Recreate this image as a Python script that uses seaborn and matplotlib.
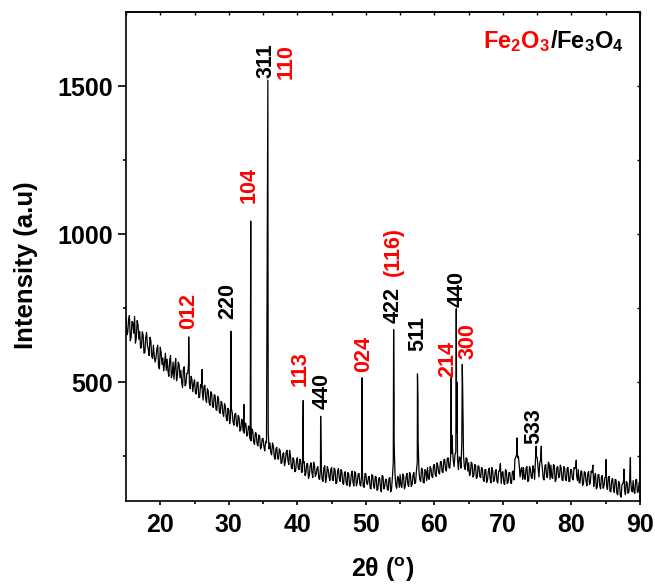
import numpy as np
import pandas as pd
import matplotlib
matplotlib.use("Agg")
import matplotlib.pyplot as plt
import seaborn as sns

# ---------------- data ----------------
# scan points at 15.000, 15.250, ... 90.000 deg
two_theta_a = np.arange(15.0, 90.001, 0.25)
intensity_a = [
    720, 668, 725, 652, 700, 722, 648, 695,   # 15
    672, 618, 660, 600, 668, 612, 652, 588,   # 17
    625, 568, 612, 555, 618, 560, 538, 598,   # 19
    578, 520, 590, 528, 510, 580, 522, 560,   # 21
    540, 482, 552, 495, 530, 495, 520, 468,   # 23
    508, 460, 500, 450, 482, 440, 490, 432,   # 25
    470, 422, 462, 415, 455, 405, 445, 395,   # 27
    430, 385, 418, 370, 405, 380, 398, 355,   # 29
    395, 350, 380, 340, 368, 328, 360, 322,   # 31
    348, 302, 335, 290, 328, 285, 318, 280,   # 33
    310, 268, 295, 330, 295, 255, 285, 240,   # 35
    280, 240, 268, 228, 262, 232, 270, 222,   # 37
    250, 208, 238, 200, 245, 205, 232, 198,   # 39
    232, 192, 225, 185, 228, 178, 220, 190,   # 41
    215, 172, 210, 165, 218, 178, 205, 168,   # 43
    212, 168, 205, 160, 208, 165, 198, 155,   # 45
    198, 152, 190, 158, 200, 150, 192, 162,   # 47
    192, 150, 188, 145, 190, 155, 182, 140,   # 49
    185, 142, 180, 138, 178, 130, 182, 148,   # 51
    172, 135, 178, 140, 230, 190, 142, 178,   # 53
    188, 145, 185, 150, 192, 148, 190, 155,   # 55
    195, 160, 230, 200, 165, 205, 160, 200,   # 57
    212, 172, 208, 178, 222, 182, 218, 190,   # 59
    232, 195, 240, 200, 245, 210, 260, 235,   # 61
    255, 330, 205, 245, 300, 250, 205, 242,   # 63
    228, 190, 225, 185, 220, 180, 215, 178,   # 65
    208, 165, 205, 170, 210, 160, 202, 168,   # 67
    205, 160, 200, 158, 198, 155, 200, 162,   # 69
    195, 158, 200, 240, 255, 250, 180, 212,   # 71
    212, 172, 215, 168, 210, 175, 205, 240,   # 73
    245, 180, 240, 210, 170, 222, 178, 225,   # 75
    220, 175, 218, 170, 215, 180, 210, 168,   # 77
    210, 168, 212, 165, 205, 170, 208, 185,   # 79
    205, 160, 200, 158, 195, 150, 198, 160,   # 81
    195, 148, 192, 145, 188, 140, 185, 150,   # 83
    180, 138, 182, 130, 175, 128, 170, 120,   # 85
    160, 112, 158, 135, 165, 125, 170, 135,   # 87
    168, 125, 172, 130, 160,                  # 89
]

# scan points at 15.125, 15.375, ... 89.875 deg
two_theta_b = np.arange(15.125, 89.9, 0.25)
intensity_b = [
    660, 712, 640, 705, 665, 632, 708, 645,   # 15
    615, 670, 598, 650, 625, 590, 640, 580,   # 17
    588, 582, 625, 545, 600, 582, 565, 540,   # 19
    538, 575, 515, 568, 552, 505, 568, 515,   # 21
    500, 545, 488, 530, 560, 478, 508, 495,   # 23
    465, 500, 448, 492, 470, 485, 445, 478,   # 25
    430, 468, 418, 458, 408, 452, 400, 435,   # 27
    395, 428, 380, 412, 360, 410, 365, 392,   # 29
    358, 388, 335, 375, 335, 362, 318, 352,   # 31
    308, 342, 298, 330, 292, 322, 275, 310,   # 33
    282, 300, 1090, 275, 262, 295, 250, 275,  # 35
    242, 275, 226, 258, 218, 265, 236, 270,   # 37
    212, 245, 198, 235, 210, 240, 195, 228,   # 39
    185, 225, 175, 218, 195, 230, 182, 210,   # 41
    175, 208, 170, 212, 162, 215, 180, 205,   # 43
    170, 210, 158, 200, 175, 205, 160, 195,   # 45
    160, 195, 148, 188, 162, 198, 150, 190,   # 47
    155, 185, 148, 192, 158, 180, 142, 188,   # 49
    150, 182, 135, 175, 148, 185, 140, 172,   # 51
    140, 175, 130, 180, 300, 150, 182, 145,   # 53
    150, 190, 140, 182, 155, 195, 148, 185,   # 55
    158, 200, 300, 170, 210, 162, 205, 168,   # 57
    175, 215, 182, 220, 188, 228, 195, 232,   # 59
    198, 238, 205, 242, 212, 250, 280, 215,   # 61
    265, 240, 248, 210, 480, 215, 245, 200,   # 63
    185, 230, 180, 222, 175, 218, 182, 212,   # 65
    170, 205, 162, 200, 175, 212, 165, 198,   # 67
    165, 200, 225, 195, 160, 205, 158, 195,   # 69
    160, 198, 170, 248, 245, 220, 205, 172,   # 71
    175, 210, 165, 215, 180, 218, 172, 250,   # 73
    212, 228, 235, 175, 218, 180, 230, 172,   # 75
    180, 222, 165, 212, 178, 220, 170, 215,   # 77
    172, 210, 165, 205, 175, 212, 215, 168,   # 79
    160, 200, 152, 198, 165, 192, 155, 200,   # 81
    220, 180, 140, 188, 150, 182, 142, 178,   # 83
    150, 178, 132, 170, 140, 172, 125, 165,   # 85
    118, 155, 170, 120, 160, 130, 175, 130,   # 87
    130, 170, 128, 162,                       # 89
]

# sharp diffraction peak tops (position, intensity)
peak_pos = [24.15, 26.1, 30.33, 32.2, 33.2, 35.7, 40.86, 43.4, 49.45, 54.05,
            54.12, 57.53, 57.6, 62.45, 62.58, 63.19, 63.28, 64.07, 72.07,
            74.85, 75.6, 80.7, 85.05, 87.65, 88.6]
peak_int = [653, 543, 672, 425, 1044, 1520, 438, 385, 515, 678,
            420, 528, 440, 516, 320, 748, 500, 560, 312,
            284, 284, 237, 239, 207, 245]

# peak labels: (2theta, intensity where label starts, text, colour)
label_pos = [24.1, 29.8, 33.0, 35.5, 38.4, 40.4, 43.6, 49.7, 54.05, 54.05,
             57.6, 61.9, 63.3, 64.95, 74.55]
label_int = [681, 712, 1104, 1526, 1523, 486, 408, 533, 701, 857,
             604, 519, 755, 577, 293]
label_txt = ["012", "220", "104", "311", "110", "113", "440", "024", "422",
             "(116)", "511", "214", "440", "300", "533"]
label_col = ["red", "black", "red", "black", "red", "red", "black", "red",
             "black", "red", "black", "red", "black", "red", "black"]

x_ticks = [20, 30, 40, 50, 60, 70, 80, 90]
y_ticks = [500, 1000, 1500]

# ---------------- build the series ----------------
df = pd.DataFrame({
    "two_theta": np.concatenate([two_theta_a, two_theta_b, peak_pos]),
    "intensity": np.concatenate([np.asarray(intensity_a, float),
                                 np.asarray(intensity_b, float),
                                 np.asarray(peak_int, float)]),
}).sort_values("two_theta").reset_index(drop=True)

# ---------------- styling ----------------
sns.set_style("ticks")
plt.rcParams["font.family"] = ["Liberation Sans", "DejaVu Sans"]
plt.rcParams["mathtext.default"] = "regular"
plt.rcParams["text.color"] = "black"
plt.rcParams["axes.labelcolor"] = "black"
plt.rcParams["xtick.color"] = "black"
plt.rcParams["ytick.color"] = "black"

fig = plt.figure(figsize=(6.55, 5.88), dpi=100)
W, H = 655, 588
ax = fig.add_axes([126 / W, (H - 500.7) / H, (640 - 126) / W, (500.7 - 12) / H])

sns.lineplot(data=df, x="two_theta", y="intensity", ax=ax, color="black",
             linewidth=0.9, estimator=None, sort=False)

ax.set_xlim(15, 90)
ax.set_ylim(100, 1750)

for s in ax.spines.values():
    s.set_visible(True)
    s.set_linewidth(1.2)
    s.set_color("black")

ax.set_xticks(x_ticks)
ax.set_xticks(np.arange(25, 90, 10), minor=True)
ax.set_yticks(y_ticks)
ax.set_yticks([250, 750, 1250], minor=True)
ax.set_xticklabels([str(v) for v in x_ticks], fontweight="bold", fontsize=18)
ax.set_yticklabels([str(v) for v in y_ticks], fontweight="bold", fontsize=18)
ax.tick_params(axis="x", which="major", direction="out", length=3.2, width=1.2,
               pad=6)
ax.tick_params(axis="x", which="minor", direction="out", length=2.0, width=1.2)
ax.tick_params(axis="y", which="major", direction="out", length=5.5, width=1.2,
               pad=4)
ax.tick_params(axis="y", which="minor", direction="out", length=2.5, width=1.2)

# inward ticks on top and right
secx = ax.secondary_xaxis("top")
secx.set_xticks(np.arange(15, 91, 5))
secx.tick_params(direction="in", length=2.0, width=1.0, labeltop=False)
secx.spines["top"].set_linewidth(1.2)
secy = ax.secondary_yaxis("right")
secy.set_yticks(np.arange(250, 1751, 250))
secy.tick_params(direction="in", length=2.5, width=1.0, labelright=False)
secy.spines["right"].set_linewidth(1.2)

ax.set_xlabel(r"2θ ($\mathregular{^o}$)", fontweight="bold", fontsize=18,
              labelpad=13)
ax.set_ylabel("Intensity (a.u)", fontweight="bold", fontsize=18.5)
ax.yaxis.set_label_coords(-0.171, 0.481)

for x, y, t, c in zip(label_pos, label_int, label_txt, label_col):
    ax.text(x, y, t, rotation=90, ha="center", va="bottom", color=c,
            fontsize=15.5, fontweight="bold")

t1 = ax.text((483 - 126) / 514, (500.7 - 48) / 488.7,
             r"Fe$_2$O$_3$", transform=ax.transAxes, color="red",
             fontsize=17, fontweight="bold", ha="left", va="baseline")
ax.annotate(r"/Fe$_3$O$_4$", xy=(1, 0), xycoords=t1, ha="left", va="bottom",
            color="black", fontsize=17, fontweight="bold")

fig.savefig("out.png", dpi=100)
